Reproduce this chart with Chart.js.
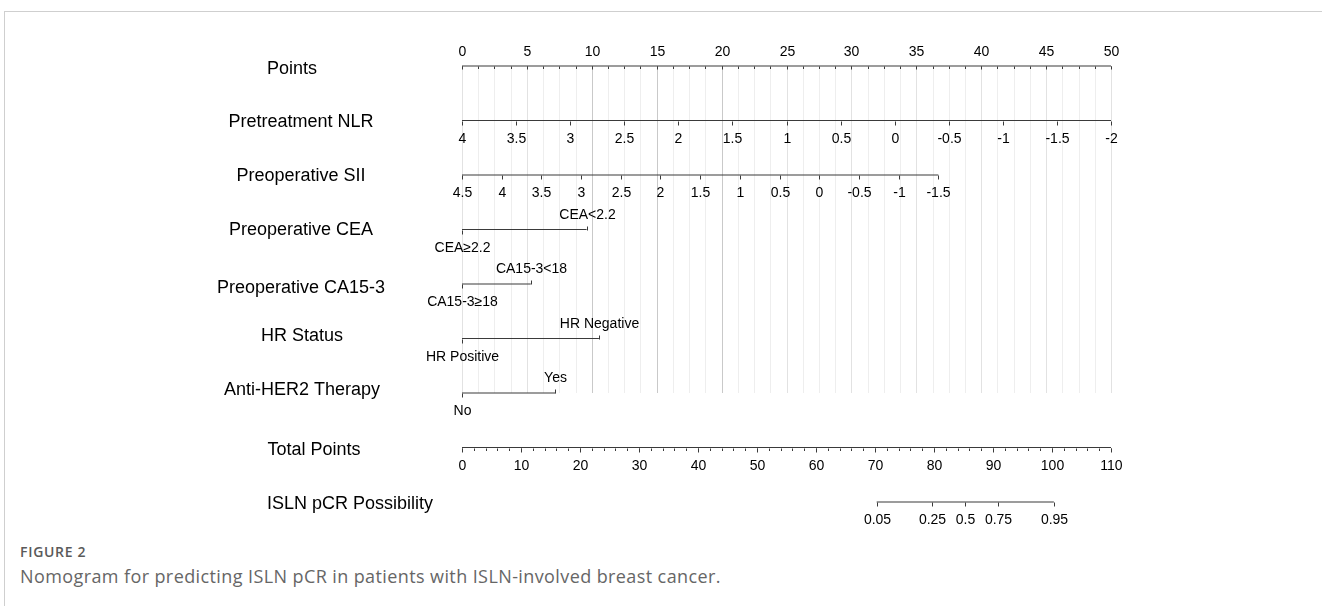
<!DOCTYPE html>
<html>
<head>
<meta charset="utf-8">
<script src="https://cdn.jsdelivr.net/npm/chart.js@4"></script>
<style>
  body{margin:0;background:#fff;width:1322px;height:606px;overflow:hidden;position:relative;font-family:"Liberation Sans",Arial,sans-serif}
  #frame{position:absolute;left:4px;top:11px;right:0;bottom:0;border-top:1px solid #cfcfcf;border-left:1px solid #cfcfcf}
  #wrap{position:absolute;left:0;top:0;width:1322px;height:540px}
  .fig{position:absolute;left:20px;top:542px;font:600 14px "Open Sans",sans-serif;color:#5a5a5a;letter-spacing:.7px}
  .cap{position:absolute;left:20px;top:564px;font:400 18px "Open Sans",sans-serif;color:#666;letter-spacing:.4px}
</style>
</head>
<body>
<div id="frame"></div>
<div id="wrap"><canvas id="nomo" width="1322" height="540"></canvas></div>
<div class="fig">FIGURE 2</div>
<div class="cap">Nomogram for predicting ISLN pCR in patients with ISLN-involved breast cancer.</div>
<script>
// --- data ---
const rowNames = ['Points','Pretreatment NLR','Preoperative SII','Preoperative CEA','Preoperative CA15-3','HR Status','Anti-HER2 Therapy','Total Points','ISLN pCR Possibility'];

const maxPoints = 50;
const pointsTicks = [0,5,10,15,20,25,30,35,40,45,50];
const pointsMinorStep = 1.25;
const darkGrid = [10,15,20];

const nlrTicks = [4,3.5,3,2.5,2,1.5,1,0.5,0,-0.5,-1,-1.5,-2];
const nlrEndPoints = 50;      // points at NLR = -2

const siiTicks = [4.5,4,3.5,3,2.5,2,1.5,1,0.5,0,-0.5,-1,-1.5];
const siiEndPoints = 36.7;    // points at SII = -1.5

const ceaLevels = ['CEA\u22652.2','CEA<2.2'];
const ceaPoints = [0, 9.6];
const ca153Levels = ['CA15-3\u226518','CA15-3<18'];
const ca153Points = [0, 5.3];
const hrLevels = ['HR Positive','HR Negative'];
const hrPoints = [0, 10.55];
const her2Levels = ['No','Yes'];
const her2Points = [0, 7.2];

const totalTicks = [0,10,20,30,40,50,60,70,80,90,100,110];
const totalMinorStep = 2;
const totalMax = 110;

const probTicks = [0.05,0.25,0.5,0.75,0.95];
const probCenterTotal = 85.3;   // total points where p = 0.5
const probTotalPerLogit = 5.1;

// --- layout (label placement only) ---
const labelCenterX = [292,301,301,301,301,302,302,314,350];
const labelDy = [3.5,1.5,1.5,0.5,4,-2.5,-2.5,2.5,2.5];

// --- conversions to the points scale ---
const linMap = (ticks, endPts) => v => (ticks[0]-v)/(ticks[0]-ticks[ticks.length-1])*endPts;
const nlrToPts = linMap(nlrTicks, nlrEndPoints);
const siiToPts = linMap(siiTicks, siiEndPoints);
const totToPts = t => t/totalMax*maxPoints;
const probToPts = p => totToPts(probCenterTotal + probTotalPerLogit*Math.log(p/(1-p)));

const fmt = v => String(v);

const rows = [
  {row:0, kind:'axis', ticks:pointsTicks.map(v=>({x:v,label:fmt(v)})), side:-1, minor:pointsMinorStep, from:0, to:maxPoints},
  {row:1, kind:'axis', ticks:nlrTicks.map(v=>({x:nlrToPts(v),label:fmt(v)})), side:1, from:0, to:nlrEndPoints},
  {row:2, kind:'axis', ticks:siiTicks.map(v=>({x:siiToPts(v),label:fmt(v)})), side:1, from:0, to:siiEndPoints},
  {row:3, kind:'cat', levels:ceaLevels, pts:ceaPoints},
  {row:4, kind:'cat', levels:ca153Levels, pts:ca153Points},
  {row:5, kind:'cat', levels:hrLevels, pts:hrPoints},
  {row:6, kind:'cat', levels:her2Levels, pts:her2Points},
  {row:7, kind:'axis', ticks:totalTicks.map(v=>({x:totToPts(v),label:fmt(v)})), side:1, minorTot:totalMinorStep, from:0, to:maxPoints},
  {row:8, kind:'axis', ticks:probTicks.map(v=>({x:probToPts(v),label:fmt(v)})), side:1, from:probToPts(probTicks[0]), to:probToPts(probTicks[probTicks.length-1])}
];

const datasets = rows.map(r => {
  const xs = r.kind==='cat' ? [Math.min(...r.pts), Math.max(...r.pts)] : [r.from, r.to];
  return {
    data: xs.map(x=>({x, y:r.row})),
    borderColor:'#3a3a3a', borderWidth:1.2, pointRadius:0, clip:false, showLine:true
  };
});

const LINE = '#3a3a3a';
const nomoPlugin = {
  id:'nomo',
  beforeDatasetsDraw(chart){
    const {ctx, scales:{x, y}} = chart;
    const top = y.getPixelForValue(0), bot = y.getPixelForValue(6);
    ctx.save();
    ctx.lineWidth = 1;
    for (let v=0; v<=maxPoints+1e-6; v+=pointsMinorStep){
      const px = Math.round(x.getPixelForValue(v))+0.5;
      const isMajor = Math.abs(v/5-Math.round(v/5))<1e-6;
      ctx.strokeStyle = darkGrid.includes(v) ? '#c9c9c9' : (isMajor ? '#e2e2e2' : '#eeeeee');
      ctx.beginPath(); ctx.moveTo(px, top); ctx.lineTo(px, bot); ctx.stroke();
    }
    ctx.restore();
  },
  afterDatasetsDraw(chart){
    const {ctx, scales:{x, y}} = chart;
    ctx.save();
    ctx.strokeStyle = LINE; ctx.fillStyle = '#000';
    ctx.lineWidth = 1;
    ctx.font = '14px "Liberation Sans", Arial, sans-serif';
    ctx.textAlign = 'center'; ctx.textBaseline = 'middle';
    const tick = (px, py, len) => { ctx.beginPath(); ctx.moveTo(px, py); ctx.lineTo(px, py+len); ctx.stroke(); };
    rows.forEach(r => {
      const py = Math.round(y.getPixelForValue(r.row))+0.5;
      if (r.kind==='axis'){
        if (r.minor){
          for (let v=0; v<=maxPoints+1e-6; v+=r.minor) tick(Math.round(x.getPixelForValue(v))+0.5, py, 2.5);
        }
        if (r.minorTot){
          for (let v=0; v<=totalMax+1e-6; v+=r.minorTot) tick(Math.round(x.getPixelForValue(totToPts(v)))+0.5, py, 2.5);
        }
        r.ticks.forEach(t => {
          const px = Math.round(x.getPixelForValue(t.x))+0.5;
          tick(px, py, r.side<0 ? 3 : 4);
          ctx.fillText(t.label, px, py + (r.side<0 ? -14 : 18));
        });
      } else {
        r.levels.forEach((lab, i) => {
          const px = Math.round(x.getPixelForValue(r.pts[i]))+0.5;
          const up = i % 2 === 1;
          tick(px, py, up ? -4 : 4);
          ctx.fillText(lab, px, py + (up ? -15 : 17.5));
        });
      }
    });
    // row titles
    ctx.font = '18px "Liberation Sans", Arial, sans-serif';
    rowNames.forEach((name, i) => {
      ctx.fillText(name, labelCenterX[i], y.getPixelForValue(i) + labelDy[i]);
    });
    ctx.restore();
  }
};

new Chart(document.getElementById('nomo'), {
  type:'scatter',
  data:{ datasets },
  options:{
    responsive:false, animation:false,
    layout:{ padding:{ left:462, right:211, top:66, bottom:38 } },
    scales:{
      x:{ type:'linear', min:0, max:maxPoints, display:false },
      y:{ type:'linear', min:0, max:8, reverse:true, display:false }
    },
    plugins:{ legend:{display:false}, tooltip:{enabled:false} }
  },
  plugins:[nomoPlugin]
});
</script>
</body>
</html>
